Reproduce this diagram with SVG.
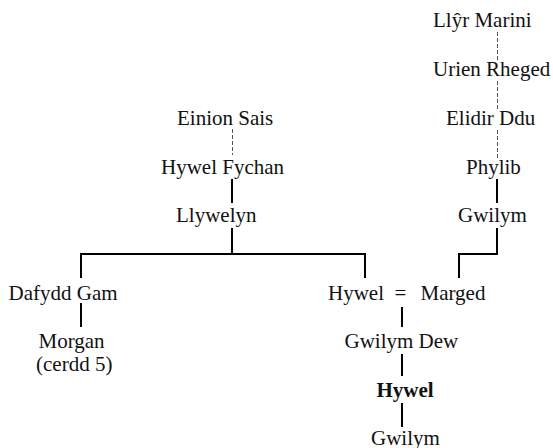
<svg xmlns="http://www.w3.org/2000/svg" width="553" height="448" viewBox="0 0 553 448">
<style>
text{font-size:21px;fill:#111}
.b{font-weight:bold}
.s{stroke:#000;stroke-width:2;fill:none}
.d{stroke:#555;stroke-width:1;stroke-dasharray:4,2;fill:none}
</style>
<rect width="553" height="448" fill="#fff"/>
<g id="connectors">
<line class="d" x1="497.5" y1="32" x2="497.5" y2="61"/>
<line class="d" x1="497.5" y1="81" x2="497.5" y2="110"/>
<line class="d" x1="497.5" y1="130" x2="497.5" y2="158"/>
<line class="s" x1="497" y1="179" x2="497" y2="203"/>
<polyline class="s" points="497,228 497,254 459,254 459,278"/>
<line class="d" x1="232.5" y1="129" x2="232.5" y2="155"/>
<line class="s" x1="232" y1="179" x2="232" y2="203"/>
<line class="s" x1="232" y1="228" x2="232" y2="254"/>
<polyline class="s" points="81,278 81,254 365,254 365,278"/>
<line class="s" x1="81" y1="303" x2="81" y2="327"/>
<line class="s" x1="402" y1="307" x2="402" y2="327"/>
<line class="s" x1="402" y1="354" x2="402" y2="376"/>
<line class="s" x1="402" y1="403" x2="402" y2="427"/>
</g>
<g font-family="'Liberation Serif', 'Times New Roman', 'DejaVu Serif', serif">
<g id="llyr-marini"><text x="433" y="27">Llŷr Marini</text></g>
<g id="urien-rheged"><text x="433" y="76">Urien Rheged</text></g>
<g id="elidir-ddu"><text x="446" y="125">Elidir Ddu</text></g>
<g id="phylib"><text x="466" y="174">Phylib</text></g>
<g id="gwilym-1"><text x="458" y="222">Gwilym</text></g>
<g id="einion-sais"><text x="177" y="125">Einion Sais</text></g>
<g id="hywel-fychan"><text x="161" y="174">Hywel Fychan</text></g>
<g id="llywelyn"><text x="176" y="222">Llywelyn</text></g>
<g id="dafydd-gam"><text x="8.5" y="300">Dafydd Gam</text></g>
<g id="morgan"><text x="38.5" y="348">Morgan</text><text x="36" y="371">(cerdd 5)</text></g>
<g id="hywel-marged"><text x="328" y="300">Hywel</text><text x="394.5" y="300">=</text><text x="420.5" y="300">Marged</text></g>
<g id="gwilym-dew"><text x="344.5" y="348">Gwilym Dew</text></g>
<g id="hywel-bold"><text class="b" x="376.5" y="397">Hywel</text></g>
<g id="gwilym-2"><text x="371" y="445">Gwilym</text></g>
</g>
</svg>
